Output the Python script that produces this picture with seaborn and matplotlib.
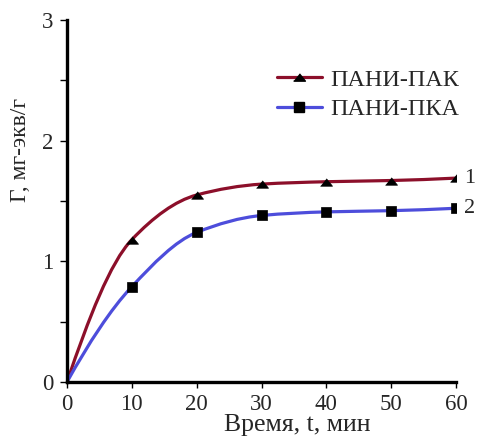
import numpy as np
import pandas as pd
import matplotlib
matplotlib.use("Agg")
import matplotlib.pyplot as plt
from matplotlib.path import Path
from matplotlib.patches import PathPatch
from matplotlib.lines import Line2D
import seaborn as sns

# ---- data ----
time_min = [0, 10, 20, 30, 40, 50, 60]
pani_pak = [0, 1.18, 1.55, 1.64, 1.66, 1.67, 1.69]
pani_pka = [0, 0.79, 1.24, 1.38, 1.41, 1.42, 1.44]
series_names = ["ПАНИ-ПАК", "ПАНИ-ПКА"]
curve_labels = ["1", "2"]
x_ticks = [0, 10, 20, 30, 40, 50, 60]
y_ticks = [0, 1, 2, 3]

RED = "#8C0F2A"
BLUE = "#4D4DDB"

sns.set_style("ticks")
plt.rcParams["font.family"] = ["Liberation Serif", "DejaVu Serif"]

fig = plt.figure(figsize=(4.8, 4.37), dpi=100)
ax = fig.add_axes([0.1396, 0.126, 0.8104, 0.828])


def smooth_path(xs, ys):
    """Smoothed line drawn as monotone cubic Bezier segments through the data points."""
    x = np.asarray(xs, float)
    y = np.asarray(ys, float)
    n = len(x)
    h = np.diff(x)
    d = np.diff(y) / h
    m = np.zeros(n)
    for i in range(1, n - 1):
        if d[i - 1] * d[i] > 0:
            w1 = 2 * h[i] + h[i - 1]
            w2 = h[i] + 2 * h[i - 1]
            m[i] = (w1 + w2) / (w1 / d[i - 1] + w2 / d[i])
    m[0] = ((2 * h[0] + h[1]) * d[0] - h[0] * d[1]) / (h[0] + h[1])
    m[-1] = ((2 * h[-1] + h[-2]) * d[-1] - h[-1] * d[-2]) / (h[-1] + h[-2])
    verts = [(x[0], y[0])]
    codes = [Path.MOVETO]
    for i in range(n - 1):
        verts += [(x[i] + h[i] / 3, y[i] + m[i] * h[i] / 3),
                  (x[i + 1] - h[i] / 3, y[i + 1] - m[i + 1] * h[i] / 3),
                  (x[i + 1], y[i + 1])]
        codes += [Path.CURVE4] * 3
    return Path(verts, codes)


tri = [(-1, -0.62), (1, -0.62), (0, 0.62)]
markers = [tri, "s"]
sizes = [75, 42]
colors = [RED, BLUE]
values = [pani_pak, pani_pka]

for vals, col, mk, sz in zip(values, colors, markers, sizes):
    ax.add_patch(PathPatch(smooth_path(time_min, vals), fill=False,
                           edgecolor=col, lw=2.3, zorder=2, capstyle="round"))
    sns.scatterplot(x=time_min[1:], y=vals[1:], marker=mk, s=sz, color="black",
                    edgecolor="black", linewidth=0.5, ax=ax, zorder=3, legend=False)

for vals, lab in zip(values, curve_labels):
    ax.text(time_min[-1] + 1.3, vals[-1], lab, fontsize=16, ha="left", va="center",
            clip_on=False)

handles = [
    Line2D([], [], color=RED, lw=2.3, marker=tri, markersize=8.5,
           markerfacecolor="black", markeredgecolor="black"),
    Line2D([], [], color=BLUE, lw=2.3, marker="s", markersize=6.5,
           markerfacecolor="black", markeredgecolor="black"),
]
ax.legend(handles, series_names, loc="upper left", bbox_to_anchor=(0.54, 0.865),
          frameon=False, fontsize=17.4, handlelength=1.85, handletextpad=0.35,
          labelspacing=0.3, borderaxespad=0, borderpad=0)

ax.set_xlim(0, 60)
ax.set_ylim(0, 3)
ax.set_xticks(x_ticks)
ax.set_yticks(y_ticks)
ax.set_yticks(np.arange(0.5, 3, 1.0), minor=True)
ax.set_xticklabels([str(v) for v in x_ticks])
ax.set_yticklabels([str(v) for v in y_ticks])

for side in ["top", "right"]:
    ax.spines[side].set_visible(False)
for side in ["left", "bottom"]:
    ax.spines[side].set_linewidth(2.4)
    ax.spines[side].set_color("black")

ax.tick_params(axis="both", which="both", direction="out", width=1.0, color="black",
               labelsize=16.5, pad=5)
ax.tick_params(axis="y", which="both", length=5)
ax.tick_params(axis="x", which="major", length=4)

ax.set_xlabel("Время, t, мин", fontsize=18.5)
ax.set_ylabel("Γ, мг-экв/г", fontsize=17)
ax.xaxis.set_label_coords(0.593, -0.088)
ax.yaxis.set_label_coords(-0.093, 0.64)

fig.savefig("out.png", dpi=100)
